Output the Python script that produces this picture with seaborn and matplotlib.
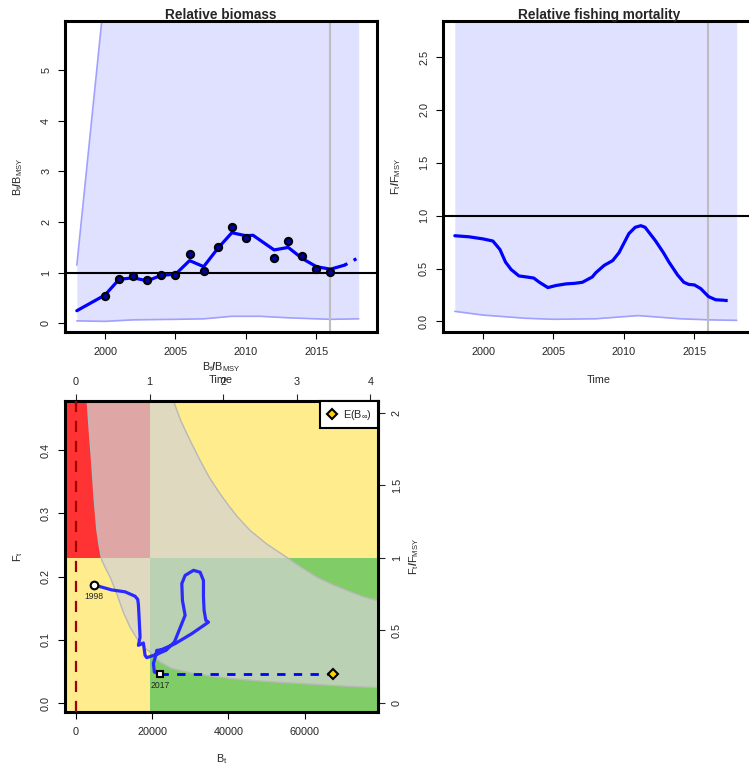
import numpy as np
import pandas as pd
import matplotlib
matplotlib.use("Agg")
import matplotlib.pyplot as plt
from matplotlib.lines import Line2D
import seaborn as sns

# ---------------- data ----------------
# Relative biomass (B/Bmsy)
years_b = [1998, 2000, 2001, 2002, 2003, 2004, 2005, 2006, 2007, 2008, 2009, 2010, 2010.5, 2012, 2013, 2014, 2015, 2016, 2017]
bbmsy = [0.25, 0.56, 0.87, 0.90, 0.84, 0.95, 0.97, 1.24, 1.12, 1.48, 1.79, 1.73, 1.74, 1.45, 1.50, 1.28, 1.12, 1.07, 1.15]
years_b_pred = [2017, 2018]
bbmsy_pred = [1.15, 1.30]
obs_years = [2000, 2001, 2002, 2003, 2004, 2005, 2006, 2007, 2008, 2009, 2010, 2012, 2013, 2014, 2015, 2016]
obs_bbmsy = [0.55, 0.88, 0.93, 0.86, 0.95, 0.96, 1.37, 1.03, 1.51, 1.91, 1.68, 1.30, 1.63, 1.34, 1.07, 1.01]
band_b_years = [1998, 2000, 2002, 2005, 2007, 2009, 2011, 2013, 2016, 2018]
band_b_lo = [0.05, 0.04, 0.07, 0.08, 0.09, 0.14, 0.14, 0.11, 0.08, 0.09]
band_b_hi = [1.15, 6.6, 9.0, 9.0, 9.0, 9.0, 9.0, 9.0, 9.0, 9.0]

# Relative fishing mortality (F/Fmsy)
years_f = [1998, 1999, 2000, 2000.7, 2001.2, 2001.6, 2002.0, 2002.55, 2003.1, 2003.6, 2004.0, 2004.6, 2005.2,
           2005.9, 2006.5, 2007.05, 2007.75, 2008.0, 2008.6, 2009.2, 2009.65, 2010.0, 2010.35, 2010.8, 2011.2,
           2011.5, 2012.25, 2012.8, 2013.2, 2013.8, 2014.25, 2014.6, 2015, 2015.45, 2016, 2016.5, 2017.1]
ffmsy = [0.81, 0.80, 0.78, 0.76, 0.68, 0.56, 0.49, 0.43, 0.42, 0.41, 0.37, 0.32, 0.34,
         0.355, 0.36, 0.37, 0.42, 0.46, 0.53, 0.575, 0.65, 0.74, 0.83, 0.89, 0.905,
         0.89, 0.76, 0.65, 0.56, 0.44, 0.37, 0.35, 0.345, 0.31, 0.235, 0.205, 0.20]
years_f_pred = [2017.1, 2017.8]
ffmsy_pred = [0.20, 0.20]
band_f_years = [1998, 2000, 2003, 2005, 2008, 2011, 2014, 2016, 2018]
band_f_lo = [0.095, 0.06, 0.03, 0.02, 0.025, 0.055, 0.025, 0.015, 0.01]
band_f_hi = [5, 5, 5, 5, 5, 5, 5, 5, 5]

# Kobe (B, F)
BMSY = 19317.0
FMSY = 0.2296
kobe_B = [4810, 5860, 9380, 12880, 15510, 16200, 16380, 16560, 16820, 16380, 17690, 18130, 18570, 21200, 23600,
          21900, 26020, 30400, 34780, 34080, 33630, 33460, 33460, 32590, 30840, 28650, 27780, 27940, 28650,
          25840, 23830, 21210, 20950, 20320, 20580, 22080]
kobe_F = [0.187, 0.185, 0.179, 0.176, 0.169, 0.164, 0.156, 0.136, 0.1045, 0.0913, 0.095, 0.0755, 0.0718, 0.077,
          0.0835, 0.083, 0.094, 0.1098, 0.128, 0.131, 0.1467, 0.168, 0.194, 0.207, 0.210, 0.202, 0.189, 0.1625,
          0.1388, 0.0966, 0.0845, 0.0834, 0.0755, 0.0623, 0.049, 0.0465]
pred_B = [22080, 67370]
pred_F = [0.0465, 0.0465]
ci_upper_B = [24500, 25580, 27500, 30000, 32500, 35000, 37500, 40000, 42500, 45730, 50000, 54480, 58500,
              63260, 67500, 72010, 75500, 78840, 85000]
ci_upper_F = [0.52, 0.478, 0.447, 0.415, 0.385, 0.357, 0.334, 0.313, 0.294, 0.273, 0.252, 0.234, 0.217,
              0.199, 0.187, 0.176, 0.168, 0.1625, 0.150]
ci_lower_B = [85000, 78840, 70000, 60000, 50000, 41350, 35000, 30000, 25000, 22080, 20500, 19450, 17690, 15900,
              14190, 12400, 10700, 8900, 7700, 6750, 6000, 5440, 4750, 4125, 3500, 2970, 2700]
ci_lower_F = [0.022, 0.0245, 0.027, 0.0306, 0.034, 0.0385, 0.043, 0.048, 0.055, 0.065, 0.073, 0.081, 0.0886, 0.103,
              0.120, 0.144, 0.173, 0.2, 0.214, 0.226, 0.252, 0.276, 0.325, 0.381, 0.43, 0.476, 0.52]

# ---------------- style ----------------
sns.set_theme(style="white")
plt.rcParams["font.family"] = ["Liberation Sans", "DejaVu Sans"]
plt.rcParams["mathtext.fontset"] = "custom"
plt.rcParams["mathtext.rm"] = "Liberation Sans"
plt.rcParams["mathtext.it"] = "Liberation Sans:italic"
plt.rcParams["mathtext.bf"] = "Liberation Sans:bold"
FS = 7.8

BLUE = "#0000FF"
BAND = "#E0E0FF"
BANDLINE = "#A0A0FF"
GREY = "#BEBEBE"
RED = "#FF3333"
YEL = "#FFEC8C"
GRN = "#80CC66"

W, H = 749, 767
fig = plt.figure(figsize=(W / 100, H / 100), dpi=100)


def rect(l, t, r, b):
    return [l / W, 1 - b / H, (r - l) / W, (b - t) / H]


def style_axes(ax):
    for s in ax.spines.values():
        s.set_visible(True)
        s.set_color("black")
        s.set_linewidth(2.2)
    ax.tick_params(direction="out", length=5, width=0.8, color="black",
                   labelsize=FS, pad=6, bottom=True, left=True)
    ax.tick_params(axis="y", labelrotation=90, pad=5)
    for lab in ax.get_yticklabels():
        lab.set_va("center")


lab_b = r"B$_\mathrm{t}$$\mathbf{/}$B$_\mathrm{MSY}$"
lab_f = r"F$_\mathrm{t}$$\mathbf{/}$F$_\mathrm{MSY}$"

# ---------------- panel 1 ----------------
ax1 = fig.add_axes(rect(65, 21, 377, 332))
ax1.fill_between(band_b_years, band_b_lo, band_b_hi, color=BAND, lw=0, zorder=1)
sns.lineplot(x=band_b_years, y=band_b_lo, ax=ax1, color=BANDLINE, lw=1.2, zorder=2)
sns.lineplot(x=band_b_years, y=band_b_hi, ax=ax1, color=BANDLINE, lw=1.2, zorder=2)
ax1.axvline(2016, color=GREY, lw=1.5, zorder=2)
ax1.axhline(1, color="black", lw=1.5, zorder=3)
sns.lineplot(x=years_b, y=bbmsy, ax=ax1, color=BLUE, lw=2.3, zorder=4)
sns.lineplot(x=years_b_pred, y=bbmsy_pred, ax=ax1, color=BLUE, lw=2.3, ls=(0, (1, 2.2)), zorder=4)
sns.scatterplot(x=obs_years, y=obs_bbmsy, ax=ax1, color="#0000AA", edgecolor="black", linewidth=1.6, s=26, zorder=5)
ax1.set_xlim(1997.16, 2019.3)
ax1.set_ylim(-0.17, 5.97)
ax1.set_xticks([2000, 2005, 2010, 2015])
ax1.set_yticks([0, 1, 2, 3, 4, 5])
style_axes(ax1)
ax1.set_title("Relative biomass", fontsize=9.8, fontweight="bold", pad=1.5)
ax1.set_xlabel("Time", fontsize=FS)
ax1.xaxis.set_label_coords(0.5, -0.138)
ax1.set_ylabel(lab_b, fontsize=FS)
ax1.yaxis.set_label_coords(-0.128, 0.5)

# ---------------- panel 2 ----------------
ax2 = fig.add_axes(rect(443, 21, 755, 332))
ax2.fill_between(band_f_years, band_f_lo, band_f_hi, color=BAND, lw=0, zorder=1)
sns.lineplot(x=band_f_years, y=band_f_lo, ax=ax2, color=BANDLINE, lw=1.2, zorder=2)
ax2.axvline(2016, color=GREY, lw=1.5, zorder=2)
ax2.axhline(1, color="black", lw=1.5, zorder=3)
sns.lineplot(x=years_f, y=ffmsy, ax=ax2, color=BLUE, lw=2.3, zorder=4)
sns.lineplot(x=years_f_pred, y=ffmsy_pred, ax=ax2, color=BLUE, lw=2.3, ls=(0, (1, 2.2)), zorder=4)
ax2.set_xlim(1997.16, 2019.3)
ax2.set_ylim(-0.1, 2.84)
ax2.set_xticks([2000, 2005, 2010, 2015])
ax2.set_yticks([0, 0.5, 1.0, 1.5, 2.0, 2.5])
ax2.set_yticklabels(["0.0", "0.5", "1.0", "1.5", "2.0", "2.5"])
style_axes(ax2)
ax2.set_title("Relative fishing mortality", fontsize=9.8, fontweight="bold", pad=1.5)
ax2.set_xlabel("Time", fontsize=FS)
ax2.xaxis.set_label_coords(0.5, -0.138)
ax2.set_ylabel(lab_f, fontsize=FS)
ax2.yaxis.set_label_coords(-0.128, 0.5)

# ---------------- panel 3 (Kobe) ----------------
ax3 = fig.add_axes(rect(65, 401, 378, 712))
xl = (-2890, 79290)
yl = (-0.0142, 0.478)
ax3.fill_between([xl[0] - 5000, BMSY], FMSY, 1, color=RED, lw=0, zorder=1)
ax3.fill_between([xl[0] - 5000, BMSY], -1, FMSY, color=YEL, lw=0, zorder=1)
ax3.fill_between([BMSY, xl[1] + 10000], -1, FMSY, color=GRN, lw=0, zorder=1)
ax3.fill_between([BMSY, xl[1] + 10000], FMSY, 1, color=YEL, lw=0, zorder=1)
poly_B = ci_upper_B + ci_lower_B
poly_F = ci_upper_F + ci_lower_F
ax3.fill(poly_B, poly_F, facecolor=(0.827, 0.827, 0.827, 0.72), edgecolor="#B8B8B8", lw=1.0, zorder=2)
ax3.axvline(0, color="#A00000", lw=1.6, ls=(0, (5, 4)), zorder=3)
sns.lineplot(x=pred_B, y=pred_F, ax=ax3, color=BLUE, lw=2.0, ls=(0, (3, 3)), zorder=4)
kobe = pd.DataFrame({"B": kobe_B, "F": kobe_F})
sns.lineplot(data=kobe, x="B", y="F", sort=False, estimator=None, ax=ax3, color="#2a2aff", lw=2.3, zorder=5)
ax3.plot(kobe_B[0], kobe_F[0], "o", ms=5.5, mfc="white", mec="black", mew=1.5, zorder=6)
ax3.plot(kobe_B[-1], kobe_F[-1], "s", ms=5.0, mfc="white", mec="black", mew=1.5, zorder=6)
ax3.plot(pred_B[-1], pred_F[-1], "D", ms=5.5, mfc="#FFD000", mec="black", mew=1.5, zorder=6)
ax3.annotate("1998", (kobe_B[0], kobe_F[0]), xytext=(0, -8.5), textcoords="offset points",
             ha="center", va="center", fontsize=6.2, zorder=7)
ax3.annotate("2017", (kobe_B[-1], kobe_F[-1]), xytext=(0, -8.5), textcoords="offset points",
             ha="center", va="center", fontsize=6.2, zorder=7)
ax3.set_xlim(*xl)
ax3.set_ylim(*yl)
ax3.set_xticks([0, 20000, 40000, 60000])
ax3.set_yticks([0.0, 0.1, 0.2, 0.3, 0.4])
ax3.set_yticklabels(["0.0", "0.1", "0.2", "0.3", "0.4"])
style_axes(ax3)
ax3.set_xlabel(r"B$_\mathrm{t}$", fontsize=FS)
ax3.xaxis.set_label_coords(0.5, -0.128)
ax3.set_ylabel(r"F$_\mathrm{t}$", fontsize=FS)
ax3.yaxis.set_label_coords(-0.128, 0.5)

top = ax3.secondary_xaxis("top", functions=(lambda b: b / BMSY, lambda r: r * BMSY))
top.set_xticks([0, 1, 2, 3, 4])
top.tick_params(direction="out", length=5, width=0.8, labelsize=FS, pad=5)
top.spines["top"].set_linewidth(2.2)
top.set_xlabel(lab_b, fontsize=FS, labelpad=5)

right = ax3.secondary_yaxis("right", functions=(lambda f: f / FMSY, lambda r: r * FMSY))
right.set_yticks([0, 0.5, 1, 1.5, 2])
right.set_yticklabels(["0", "0.5", "1", "1.5", "2"])
right.tick_params(direction="out", length=5, width=0.8, labelsize=FS, pad=5, labelrotation=90)
for lab in right.get_yticklabels():
    lab.set_va("center")
right.spines["right"].set_linewidth(2.2)
right.set_ylabel(lab_f, fontsize=FS, labelpad=4)

leg_handle = Line2D([], [], marker="D", ls="none", ms=5.5, mfc="#FFD000", mec="black", mew=1.5)
leg = ax3.legend([leg_handle], [r"E(B$_\infty$)"], loc="upper right", borderaxespad=0,
                 fancybox=False, fontsize=FS, handlelength=1.0, handletextpad=0.5,
                 borderpad=0.6, framealpha=1)
leg.get_frame().set_edgecolor("black")
leg.get_frame().set_linewidth(1.5)
leg.set_zorder(10)

fig.savefig("out.png", dpi=100)
